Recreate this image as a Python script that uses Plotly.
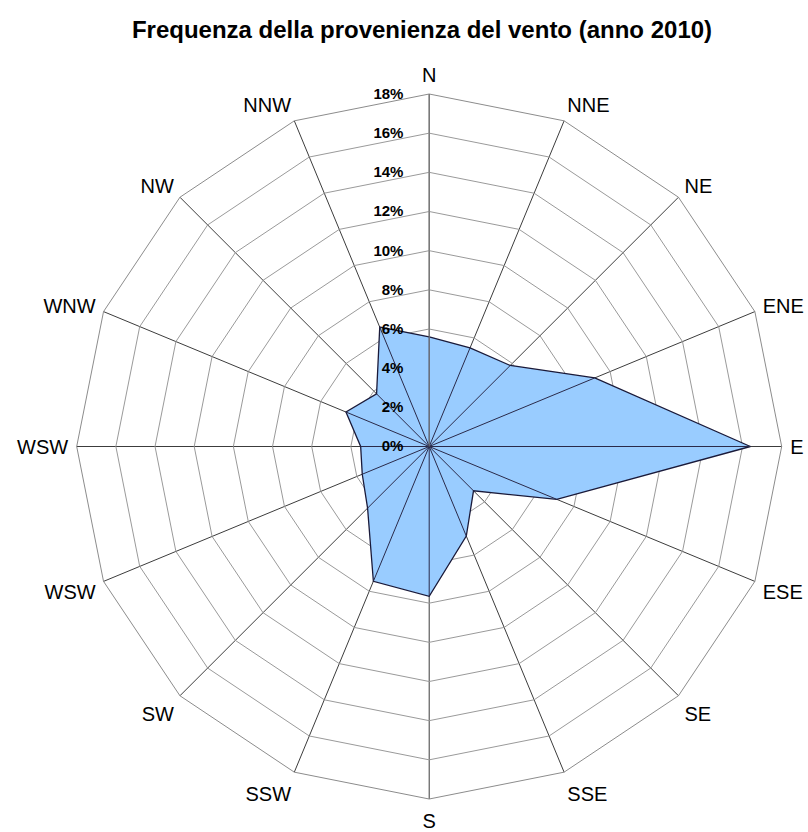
import plotly.graph_objects as go

# Wind directions (category keys) and their displayed labels (as in the original chart)
directions = ["N", "NNE", "NE", "ENE", "E", "ESE", "SE", "SSE",
              "S", "SSW", "SW", "WSW", "W", "WNW", "NW", "NNW"]
direction_labels = ["N", "NNE", "NE", "ENE", "E", "ESE", "SE", "SSE",
                    "S", "SSW", "SW", "WSW", "WSW", "WNW", "NW", "NNW"]
# Frequency of wind provenance (%), year 2010
frequency = [5.6, 5.45, 5.85, 9.15, 16.4, 7.05, 3.2, 4.95,
             7.65, 7.45, 4.45, 3.7, 3.5, 4.6, 3.8, 6.6]
radial_ticks = [0, 2, 4, 6, 8, 10, 12, 14, 16, 18]
radial_tick_labels = [f"{t}%" for t in radial_ticks]

title_text = "Frequenza della provenienza del vento (anno 2010)"

fig = go.Figure()

# filled polygon
fig.add_trace(go.Scatterpolar(
    theta=directions + [directions[0]],
    r=frequency + [frequency[0]],
    mode="lines",
    fill="toself",
    fillcolor="#99CCFF",
    line=dict(color="#1a1a3a", width=1.3),
    hoverinfo="skip",
    showlegend=False,
))

# spokes drawn over the fill (from centre to each value)
sp_theta, sp_r = [], []
for d, v in zip(directions, frequency):
    sp_theta += [d, d, d]
    sp_r += [0, v, None]
fig.add_trace(go.Scatterpolar(
    theta=sp_theta, r=sp_r, mode="lines",
    line=dict(color="#2a2a4a", width=1),
    connectgaps=False, hoverinfo="skip", showlegend=False,
))

W, H = 808, 832
cx, cy, R = 429.2, 446.5, 352.5

fig.update_layout(
    width=W, height=H,
    margin=dict(l=0, r=0, t=0, b=0),
    paper_bgcolor="white",
    plot_bgcolor="white",
    font=dict(family="Liberation Sans, Arial, sans-serif", color="black"),
    title=dict(
        text=f"<b>{title_text}</b>",
        font=dict(size=24, family="Liberation Sans, Arial, sans-serif", color="black"),
        x=422 / W, xanchor="center",
        y=1 - 30 / H, yanchor="middle",
    ),
    polar=dict(
        domain=dict(x=[(cx - R) / W, (cx + R) / W],
                    y=[(H - cy - R) / H, (H - cy + R) / H]),
        bgcolor="white",
        gridshape="linear",
        angularaxis=dict(
            type="category",
            categoryarray=directions,
            rotation=90,
            direction="clockwise",
            tickmode="array",
            tickvals=directions,
            ticktext=direction_labels,
            tickfont=dict(size=20, color="black"),
            ticks="outside", ticklen=4, tickcolor="rgba(0,0,0,0)",
            showline=True, linecolor="#8c8c8c", linewidth=1,
            showgrid=True, gridcolor="#3c3c3c", gridwidth=1,
        ),
        radialaxis=dict(
            range=[0, 18],
            tickmode="array",
            tickvals=radial_ticks,
            ticktext=radial_tick_labels,
            tickfont=dict(size=15, color="black", family="Liberation Sans, Arial, sans-serif", weight="bold"),
            angle=90,
            tickangle=90,
            side="counterclockwise",
            ticks="outside", ticklen=20, tickcolor="rgba(0,0,0,0)",
            showline=True, linecolor="#7a7a7a", linewidth=1,
            showgrid=True, gridcolor="#9a9a9a", gridwidth=1,
        ),
    ),
)

# remove the default 8px page margin so the 808x832 figure fills the window exactly
fig.write_html("out.html",
               config={"displayModeBar": False},
               post_script="document.body.style.margin='0';document.body.style.overflow='hidden';")
